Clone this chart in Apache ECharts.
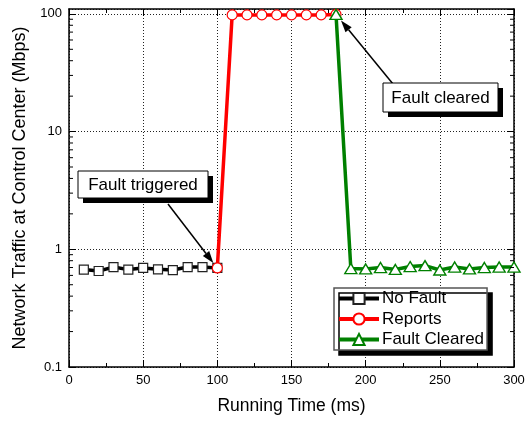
<!DOCTYPE html>
<html><head><meta charset="utf-8">
<script src="https://cdn.jsdelivr.net/npm/echarts@6/dist/echarts.min.js"></script>
<style>html,body{margin:0;padding:0;background:#fff}#c{width:531px;height:422px}</style>
</head><body><div id="c"></div>
<script>
// ---- data ----
const noFaultX = [10, 20, 30, 40, 50, 60, 70, 80, 90, 100];
const noFaultY = [0.672, 0.654, 0.706, 0.672, 0.694, 0.676, 0.666, 0.706, 0.706, 0.694];
const reportsX = [100, 110, 120, 130, 140, 150, 160, 170, 180];
const reportsY = [0.694, 98, 98, 98, 98, 98, 98, 98, 99];
const clearedX = [180, 190, 200, 210, 220, 230, 240, 250, 260, 270, 280, 290, 300];
const clearedY = [99, 0.686, 0.681, 0.700, 0.674, 0.713, 0.727, 0.667, 0.707, 0.681, 0.700, 0.707, 0.707];
const seriesNames = ['No Fault', 'Reports', 'Fault Cleared'];
const xTickLabels = [0, 50, 100, 150, 200, 250, 300];
const yTickLabels = [0.1, 1, 10, 100];
const annTriggered = 'Fault triggered';
const annCleared = 'Fault cleared';
const FONT = 'Liberation Sans, Arial, sans-serif';

const zip = (xs, ys) => xs.map((x, i) => [x, ys[i]]);

const chart = echarts.init(document.getElementById('c'), null, {renderer: 'canvas'});
const GL = 69, GR = 17, GT = 9, GB = 55;

const axisCommon = {
  axisLine: {show: true, onZero: false, lineStyle: {color: '#000', width: 1.5}},
  axisTick: {show: true, inside: true, length: 7, lineStyle: {color: '#000', width: 1}}
};

chart.setOption({
  animation: false,
  backgroundColor: '#fff',
  grid: {left: GL, right: GR, top: GT, bottom: GB},
  xAxis: [{
    type: 'value', min: 0, max: 300, interval: 50, position: 'bottom',
    ...axisCommon,
    minorTick: {show: true, splitNumber: 2, length: 4, lineStyle: {color: '#000', width: 1}},
    axisLabel: {color: '#000', fontSize: 13, fontFamily: FONT, margin: 7,
      formatter: v => xTickLabels.includes(v) ? String(v) : ''},
    splitLine: {show: true, lineStyle: {color: '#222', width: 1, type: [1, 2]}},
    name: 'Running Time (ms)', nameLocation: 'middle', nameGap: 30,
    nameTextStyle: {color: '#000', fontSize: 17.5, fontFamily: FONT}
  }, {
    type: 'value', min: 0, max: 300, interval: 50, position: 'top',
    ...axisCommon,
    minorTick: {show: true, splitNumber: 2, length: 4, lineStyle: {color: '#000', width: 1}},
    axisLabel: {show: false}, splitLine: {show: false}
  }],
  yAxis: [{
    type: 'log', logBase: 10, min: 0.1, max: 110, position: 'left',
    ...axisCommon,
    axisLabel: {color: '#000', fontSize: 13, fontFamily: FONT, margin: 7, showMaxLabel: false,
      formatter: v => {
        const m = yTickLabels.find(t => Math.abs(t - v) / t < 1e-6);
        return m === undefined ? '' : String(m);
      }},
    splitLine: {show: true, lineStyle: {color: '#222', width: 1, type: [1, 2]}},
    name: 'Network Traffic at Control Center (Mbps)', nameLocation: 'middle', nameGap: 38,
    nameTextStyle: {color: '#000', fontSize: 18, fontFamily: FONT}
  }, {
    type: 'log', logBase: 10, min: 0.1, max: 110, position: 'right',
    ...axisCommon,
    axisLabel: {show: false}, splitLine: {show: false}
  }],
  legend: {
    orient: 'vertical', left: 334, top: 288,
    data: seriesNames,
    padding: [2, 3, 2, 3], itemGap: 3.5, itemWidth: 40, itemHeight: 14,
    lineStyle: {width: 4},
    backgroundColor: '#fff', borderColor: '#555', borderWidth: 1.5,
    shadowColor: '#000', shadowBlur: 0, shadowOffsetX: 5, shadowOffsetY: 5,
    textStyle: {color: '#000', fontSize: 17, lineHeight: 17, fontFamily: FONT, padding: [0, 0, 0, -2]}
  },
  series: [{
    name: seriesNames[0], type: 'line', data: zip(noFaultX, noFaultY),
    symbol: 'rect', symbolSize: 9, showAllSymbol: true,
    lineStyle: {color: '#000', width: 3.5},
    itemStyle: {color: '#fff', borderColor: '#222', borderWidth: 1.2},
    z: 2
  }, {
    name: seriesNames[1], type: 'line', data: zip(reportsX, reportsY),
    symbol: 'circle', symbolSize: 10, showAllSymbol: true,
    lineStyle: {color: '#ff0000', width: 3.5},
    itemStyle: {color: '#fff', borderColor: '#ff0000', borderWidth: 1.2},
    z: 3
  }, {
    name: seriesNames[2], type: 'line', data: zip(clearedX, clearedY),
    symbol: 'triangle', symbolSize: [12, 10], showAllSymbol: true,
    lineStyle: {color: '#008000', width: 3.5},
    itemStyle: {color: '#fff', borderColor: '#008000', borderWidth: 1.4},
    z: 4
  }]
});

// ---- overlays: minor log ticks, annotations ----
function px(x, y) { return chart.convertToPixel({gridIndex: 0}, [x, y]); }
const gfx = [];
const leftX = GL, rightX = 531 - GR;
for (let d = -1; d <= 1; d++) {
  for (let k = 2; k <= 9; k++) {
    const v = k * Math.pow(10, d);
    const y = px(0, v)[1];
    gfx.push({type: 'line', shape: {x1: leftX, y1: y, x2: leftX + 4, y2: y}, style: {stroke: '#000', lineWidth: 1}, z: 10});
    gfx.push({type: 'line', shape: {x1: rightX - 4, y1: y, x2: rightX, y2: y}, style: {stroke: '#000', lineWidth: 1}, z: 10});
  }
}
function arrow(x1, y1, x2, y2) {
  const dx = x2 - x1, dy = y2 - y1, L = Math.hypot(dx, dy);
  const ux = dx / L, uy = dy / L, hl = 12, hw = 4;
  const bx = x2 - ux * hl, by = y2 - uy * hl;
  gfx.push({type: 'line', shape: {x1, y1, x2: bx, y2: by}, style: {stroke: '#000', lineWidth: 1.5}, z: 20});
  gfx.push({type: 'polygon', shape: {points: [[x2, y2], [bx - uy * hw, by + ux * hw], [bx + uy * hw, by - ux * hw]]},
    style: {fill: '#000'}, z: 20});
}
function box(x, y, w, h, text) {
  gfx.push({type: 'rect', shape: {x: x + 5, y: y + 5, width: w, height: h}, style: {fill: '#000'}, z: 21});
  gfx.push({type: 'rect', shape: {x, y, width: w, height: h}, style: {fill: '#fff', stroke: '#000', lineWidth: 1}, z: 22});
  gfx.push({type: 'text', x: x + w / 2, y: y + h / 2 + 1, style: {text, fill: '#000', font: '17px ' + FONT, align: 'center', verticalAlign: 'middle'}, z: 23});
}
const pTrig = px(noFaultX[noFaultX.length - 1], noFaultY[noFaultY.length - 1]);
arrow(168, 204, pTrig[0] - 4, pTrig[1] - 5);
box(78, 171, 130, 27, annTriggered);
const pClr = px(clearedX[0], clearedY[0]);
arrow(393, 84, pClr[0] + 5, pClr[1] + 6);
box(383, 83, 115, 29, annCleared);
chart.setOption({graphic: {elements: gfx}});
</script>
</body></html>
